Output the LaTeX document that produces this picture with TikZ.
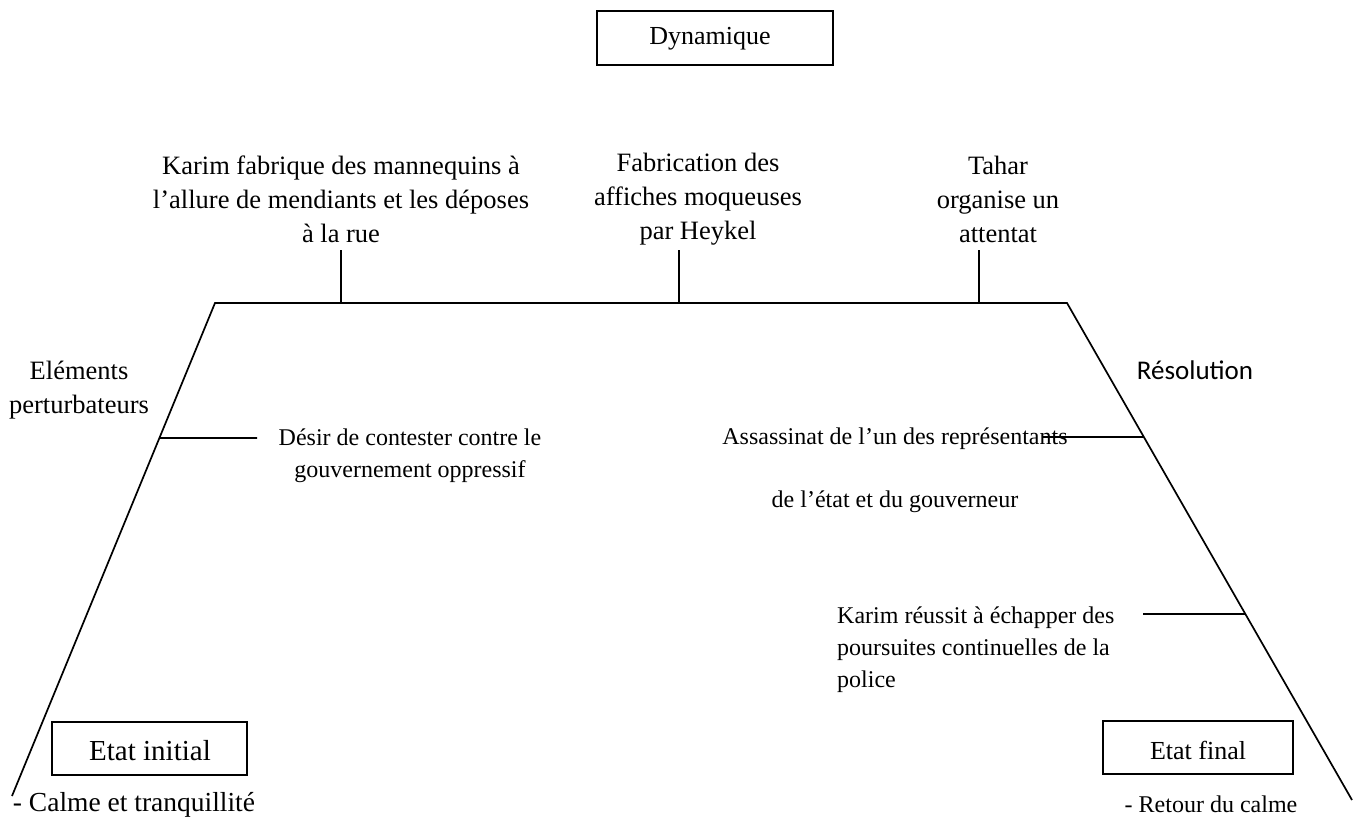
\documentclass[tikz,border=0pt]{standalone}
\usepackage{fontspec}
\setmainfont{Liberation Serif}
\newfontfamily\calib{Carlito}
\usetikzlibrary{calc}
\begin{document}
\begin{tikzpicture}[x=1pt,y=-1pt,
  ln/.style={line width=1.7pt},
  lbl/.style={inner sep=0pt, align=center},
  bigtxt/.style={lbl, font=\fontsize{26.5}{34}\selectfont},
  smalltxt/.style={lbl, font=\fontsize{24}{32}\selectfont},
  framebox/.style={draw, line width=1.7pt, inner sep=0pt}]
\useasboundingbox (0,0) rectangle (1359,819);

% frame of the scheme
\coordinate (TL) at (215,303);
\coordinate (TR) at (1067,303);
\coordinate (BL) at (12,796);
\coordinate (BR) at (1352,800);
\draw[ln] (BL) -- (TL) -- (TR) -- (BR);

% top ticks
\coordinate (t1b) at (341,303); \coordinate (t1a) at (341,250);
\coordinate (t2b) at (679,303); \coordinate (t2a) at (679,250);
\coordinate (t3b) at (979,303); \coordinate (t3a) at (979,250);
\draw[ln] (t1b) -- (t1a);
\draw[ln] (t2b) -- (t2a);
\draw[ln] (t3b) -- (t3a);

% side branches
\coordinate (l1a) at ($(TL)!0.2738!(BL)$);
\coordinate (l1b) at (257,438);
\draw[ln] (l1a) -- (l1b);
\coordinate (r1a) at ($(TR)!0.2696!(BR)$);
\coordinate (r1b) at (1043,437);
\draw[ln] (r1a) -- (r1b);
\coordinate (r2a) at ($(TR)!0.6258!(BR)$);
\coordinate (r2b) at (1143,614);
\draw[ln] (r2a) -- (r2b);

% boxes
\node[framebox, minimum width=236pt, minimum height=54pt] (dyn) at (715,38) {};
\node[lbl, font=\fontsize{26}{30}\selectfont] (dyntxt) at (710,39) {Dynamique};
\node[framebox, minimum width=195pt, minimum height=53pt] (ei) at (149.5,748.5) {};
\node[lbl, font=\fontsize{29}{33}\selectfont] (eitxt) at (150,751) {Etat initial};
\node[framebox, minimum width=190pt, minimum height=53pt] (ef) at (1198,747.5) {};
\node[lbl, font=\fontsize{26}{30}\selectfont] (eftxt) at (1198,750) {Etat final};

% texts
\node[bigtxt] (k1) at (341,199) {Karim fabrique des mannequins à\\l’allure de mendiants et les déposes\\à la rue};
\node[bigtxt] (fab) at (698,199) {Fabrication des\\affiches moqueuses\\par Heykel};
\node[bigtxt] (tah) at (998,199) {Tahar\\organise un\\attentat};
\node[bigtxt] (elem) at (79,390) {Eléments\\perturbateurs};
\node[lbl, font=\calib\fontsize{27}{32}\selectfont] (res) at (1195,370) {Résolution};
\node[smalltxt] (des) at (410,456) {Désir de contester contre le\\gouvernement oppressif};
\node[lbl, font=\fontsize{24}{63}\selectfont] (ass) at (895,470) {Assassinat de l’un des représentants\\de l’état et du gouverneur};
\node[smalltxt, align=left, anchor=west] (kr) at (837,650) {Karim réussit à échapper des\\poursuites continuelles de la\\police};
\node[lbl, font=\fontsize{27.5}{32}\selectfont] (calme) at (134,805) {- Calme et tranquillité};
\node[lbl, font=\fontsize{24}{30}\selectfont] (retour) at (1211,804) {- Retour du calme};
\end{tikzpicture}
\end{document}
